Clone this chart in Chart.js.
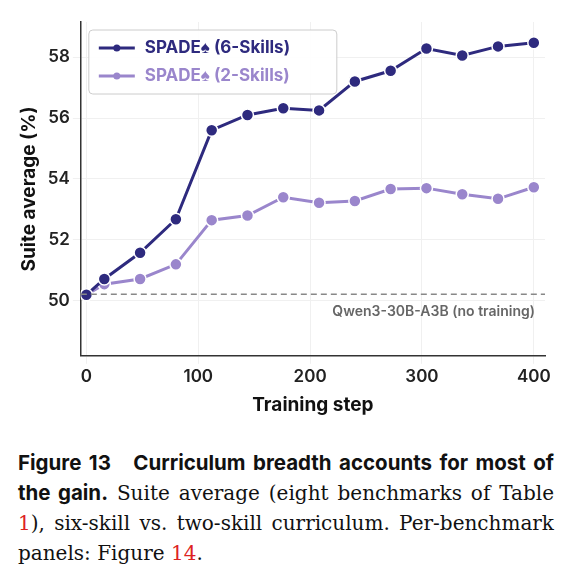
<!DOCTYPE html>
<html><head><meta charset="utf-8">
<script src="https://cdn.jsdelivr.net/npm/chart.js@4"></script>
<style>
body{margin:0;background:#fff;width:575px;font-family:"DejaVu Serif",serif}
#wrap{position:relative;width:575px;height:425px}
.cap{position:absolute;left:18px;top:448px;width:536px;font-size:20px;line-height:30px;color:#111;text-align:justify}
.cap b{font-family:Inter,"DejaVu Sans",sans-serif;font-weight:700;font-size:20.5px}
.red{color:#d22}
</style></head><body>
<div id="wrap"><canvas id="c"></canvas></div>
<div class="cap"><b>Figure 13&nbsp;&nbsp; Curriculum breadth accounts for most of the gain.</b> Suite average (eight benchmarks of Table <span class="red">1</span>), six-skill vs. two-skill curriculum. Per-benchmark panels: Figure <span class="red">14</span>.</div>
<script>
const steps = [0,16,48,80,112,144,176,208,240,272,304,336,368,400];
const sixSkill = [50.2,50.72,51.58,52.68,55.6,56.1,56.32,56.25,57.2,57.55,58.28,58.05,58.35,58.47];
const twoSkill = [50.2,50.55,50.72,51.2,52.65,52.8,53.4,53.22,53.28,53.67,53.7,53.5,53.35,53.73];
const baseline = 50.22;
const xTicks = [0,100,200,300,400];
const yTicks = [50,52,54,56,58];
const colors = ['#2e2a7e','#9a86cc'];

const extras = {
  id:'extras',
  afterDatasetsDraw(ch){
    const {ctx,chartArea:a,scales:{y}}=ch; const py=y.getPixelForValue(baseline);
    ctx.save(); ctx.strokeStyle='#888'; ctx.lineWidth=1.5; ctx.setLineDash([6,4]);
    ctx.beginPath(); ctx.moveTo(a.left,py); ctx.lineTo(a.right,py); ctx.stroke();
    ctx.setLineDash([]); ctx.fillStyle='#666'; ctx.font='600 14px Inter'; ctx.textAlign='right';
    ctx.fillText('Qwen3-30B-A3B (no training)',a.right-10,py+22);
    // legend box
    const bx=a.left+8, by=a.top+8;
    ctx.fillStyle='rgba(255,255,255,0.9)'; ctx.strokeStyle='#ccc'; ctx.lineWidth=1;
    ctx.beginPath(); ctx.roundRect(bx,by,248,64,4); ctx.fill(); ctx.stroke();
    ctx.textAlign='left'; ctx.textBaseline='middle'; ctx.font='bold 17px Inter';
    ch.data.datasets.forEach((d,i)=>{
      const ly=by+18+i*28;
      ctx.strokeStyle=colors[i]; ctx.lineWidth=3; ctx.beginPath(); ctx.moveTo(bx+10,ly); ctx.lineTo(bx+46,ly); ctx.stroke();
      ctx.fillStyle=colors[i]; ctx.beginPath(); ctx.arc(bx+28,ly,3.5,0,Math.PI*2); ctx.fill();
      ctx.fillText(d.label,bx+56,ly);
    });
    ctx.restore();
  }
};
new Chart(document.getElementById('c'),{
  type:'line',
  data:{datasets:[
    {label:'SPADE♠ (6-Skills)',data:steps.map((s,i)=>({x:s,y:sixSkill[i]})),borderColor:colors[0],backgroundColor:colors[0],borderWidth:3,pointRadius:6,pointBorderColor:'#fff',pointBorderWidth:1.5},
    {label:'SPADE♠ (2-Skills)',data:steps.map((s,i)=>({x:s,y:twoSkill[i]})),borderColor:colors[1],backgroundColor:colors[1],borderWidth:3,pointRadius:6,pointBorderColor:'#fff',pointBorderWidth:1.5}
  ]},
  options:{responsive:true,maintainAspectRatio:false,animation:false,
    layout:{padding:{top:22,right:30,left:14,bottom:4}},
    plugins:{legend:{display:false},tooltip:{enabled:false}},
    scales:{
      x:{type:'linear',min:-5,max:410,afterBuildTicks:ax=>{ax.ticks=xTicks.map(v=>({value:v}));},ticks:{color:'#222',font:{family:'Inter',size:17,weight:'600'}},grid:{color:'#f0f0f0'},border:{color:'#333',width:1.5},
        title:{display:true,text:'Training step',font:{family:'Inter',size:19,weight:'bold'},color:'#111'}},
      y:{min:48.2,max:59.15,afterBuildTicks:ax=>{ax.ticks=yTicks.map(v=>({value:v}));},ticks:{color:'#222',font:{family:'Inter',size:17,weight:'600'}},grid:{color:'#f0f0f0'},border:{color:'#333',width:1.5},
        title:{display:true,text:'Suite average (%)',font:{family:'Inter',size:19,weight:'bold'},color:'#111'}}
    }},
  plugins:[extras]
});
</script></body></html>
